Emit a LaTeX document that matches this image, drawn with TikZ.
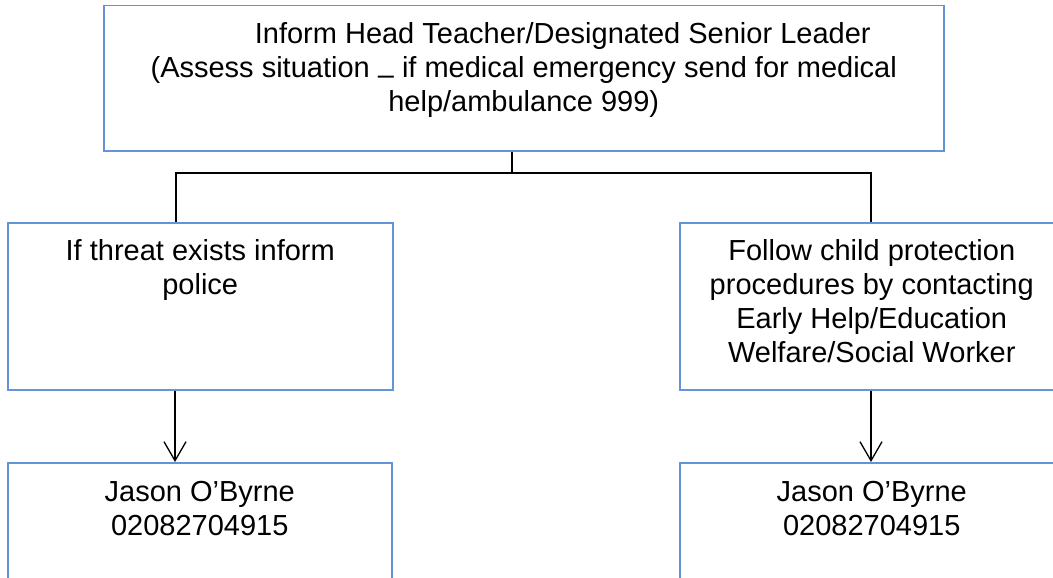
\documentclass[tikz,border=0pt]{standalone}
\usepackage{fontspec}
\setmainfont{Liberation Sans}
\usetikzlibrary{arrows.meta}
\definecolor{boxblue}{RGB}{98,148,218}
\begin{document}
\begin{tikzpicture}[x=1pt,y=-1pt,
  box/.style={draw=boxblue, line width=1.5pt, inner sep=0pt, anchor=north west},
  txt/.style={font=\fontsize{29}{34}\selectfont, align=center, inner sep=0pt},
  conn/.style={draw=black, line width=1.5pt},
  arr/.style={conn, -{Straight Barb[length=19pt,width=22pt,line width=1.3pt]}}]
\useasboundingbox (0,0) rectangle (1053,578);
\clip (0,0) rectangle (1053,578);
% boxes
\node[box, minimum width=840pt, minimum height=145pt] (top) at (103,5) {};
\node[box, minimum width=385pt, minimum height=167pt] (left) at (7,222) {};
\node[box, minimum width=384pt, minimum height=167pt] (right) at (679,222) {};
\node[box, minimum width=384pt, minimum height=167pt] (lb) at (7,462) {};
\node[box, minimum width=384pt, minimum height=167pt] (rb) at (679,462) {};
% texts
\node[txt, below=17.5pt] (toptext) at (top.north) {\hspace*{78pt}Inform Head Teacher/Designated Senior Leader\\(Assess situation \raisebox{-6.5pt}{–} if medical emergency send for medical\\help/ambulance 999)};
\node[txt, below=17.5pt] (lefttext) at (left.north) {If threat exists inform\\police};
\node[txt, below=17.5pt] (righttext) at (right.north) {Follow child protection\\procedures by contacting\\Early Help/Education\\Welfare/Social Worker};
\node[txt, below=19.5pt] (lbtext) at (lb.north) {Jason O’Byrne\\02082704915};
\node[txt, below=19.5pt] (rbtext) at (rb.north) {Jason O’Byrne\\02082704915};
% connectors
\coordinate (j) at (512,173);
\coordinate (jl) at (176,173);
\coordinate (jr) at (871,173);
\coordinate (al) at (175,0);
\coordinate (ar) at (871,0);
\draw[conn] (top.south -| j) -- (j);
\draw[conn] (left.north -| jl) -- (jl) -- (jr) -- (right.north -| jr);
\draw[arr] (left.south -| al) -- (lb.north -| al);
\draw[arr] (right.south -| ar) -- (rb.north -| ar);
\end{tikzpicture}
\end{document}
